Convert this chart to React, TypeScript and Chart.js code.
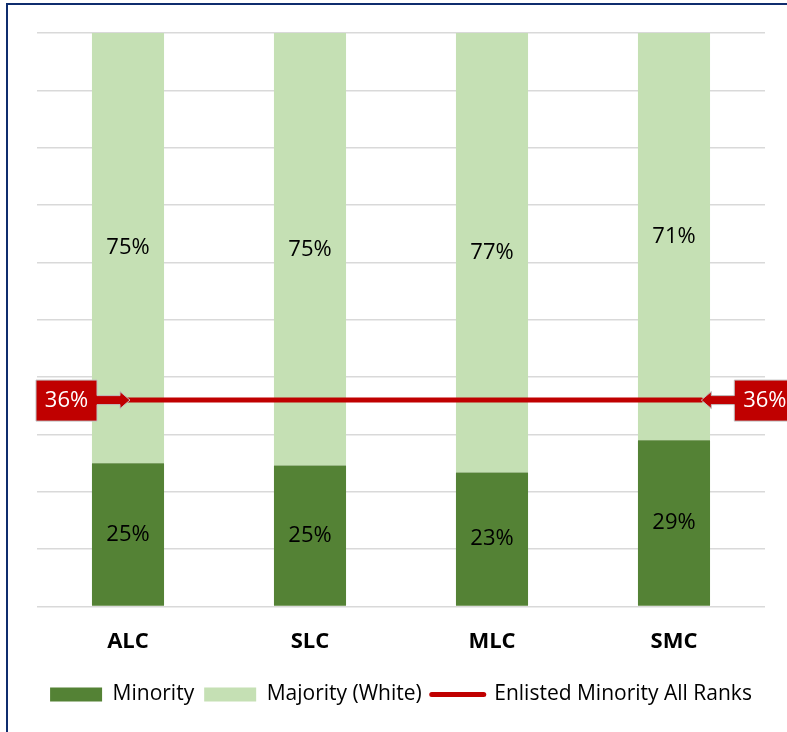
import React, { useEffect, useRef } from "react";
import { Chart, registerables } from "chart.js";

Chart.register(...registerables);

const categories = ["ALC", "SLC", "MLC", "SMC"];
const minority = [25, 24.6, 23.4, 29];
const majority = [75, 75.4, 76.6, 71];
const enlistedMinority = 36;
const lineX = [0.5, 3.65];
const yTicks = [0, 10, 20, 30, 40, 50, 60, 70, 80, 90, 100];

const FONT = "'Open Sans', sans-serif";
const RED = "#C00000";

const labelPlugin = {
  id: "barLabels",
  afterDatasetsDraw(chart: any) {
    const ctx = chart.ctx;
    ctx.save();
    ctx.font = `22px ${FONT}`;
    ctx.fillStyle = "#000000";
    ctx.textAlign = "center";
    ctx.textBaseline = "middle";
    [0, 1].forEach((di) => {
      const meta = chart.getDatasetMeta(di);
      const ds = chart.data.datasets[di];
      meta.data.forEach((el: any, i: number) => {
        const { x, y, base } = el.getProps(["x", "y", "base"], true);
        ctx.fillText(Math.round(ds.data[i]) + "%", x, (y + base) / 2);
      });
    });
    ctx.restore();
  },
};

const calloutPlugin = {
  id: "callouts",
  afterDatasetsDraw(chart: any) {
    const meta = chart.getDatasetMeta(2);
    const pts = meta.data;
    if (!pts || pts.length < 2) return;
    const ctx = chart.ctx;
    const drawCallout = (tipX: number, tipY: number, dir: number) => {
      const gap = 33;
      const boxW = 61;
      const headL = 10;
      const shaftH = 4.5;
      const headH = 8.5;
      const top = tipY - 20;
      const bot = tipY + 21;
      const near = tipX - dir * gap;
      const far = near - dir * boxW;
      const headBase = tipX - dir * headL;
      ctx.save();
      ctx.beginPath();
      ctx.moveTo(far, top);
      ctx.lineTo(near, top);
      ctx.lineTo(near, tipY - shaftH);
      ctx.lineTo(headBase, tipY - shaftH);
      ctx.lineTo(headBase, tipY - headH);
      ctx.lineTo(tipX, tipY);
      ctx.lineTo(headBase, tipY + headH);
      ctx.lineTo(headBase, tipY + shaftH);
      ctx.lineTo(near, tipY + shaftH);
      ctx.lineTo(near, bot);
      ctx.lineTo(far, bot);
      ctx.closePath();
      ctx.fillStyle = RED;
      ctx.fill();
      ctx.strokeStyle = "#BFBFBF";
      ctx.lineWidth = 1;
      ctx.stroke();
      ctx.fillStyle = "#FFFFFF";
      ctx.font = `22px ${FONT}`;
      ctx.textAlign = "center";
      ctx.textBaseline = "middle";
      ctx.fillText(enlistedMinority + "%", (near + far) / 2, tipY + 1);
      ctx.restore();
    };
    const a = pts[0];
    const b = pts[pts.length - 1];
    drawCallout(a.x + 2, a.y, 1);
    drawCallout(b.x, b.y, -1);
  },
};

export default function App() {
  const ref = useRef<HTMLCanvasElement | null>(null);
  useEffect(() => {
    if (!ref.current) return;
    const chart = new Chart(ref.current, {
      type: "bar",
      data: {
        labels: categories,
        datasets: [
          {
            label: "Minority",
            data: minority,
            backgroundColor: "#548235",
            borderWidth: 0,
            xAxisID: "x",
            stack: "s",
            grouped: false,
            categoryPercentage: 1,
            barPercentage: 0.396,
            order: 1,
          } as any,
          {
            label: "Majority (White)",
            data: majority,
            backgroundColor: "#C5E0B4",
            borderWidth: 0,
            xAxisID: "x",
            stack: "s",
            grouped: false,
            categoryPercentage: 1,
            barPercentage: 0.396,
            order: 1,
          } as any,
          {
            type: "line",
            label: "Enlisted Minority All Ranks",
            data: lineX.map((x) => ({ x, y: enlistedMinority })),
            xAxisID: "x2",
            borderColor: RED,
            backgroundColor: RED,
            borderWidth: 5,
            borderCapStyle: "round",
            pointRadius: 0,
            pointStyle: "line",
            order: 0,
          } as any,
        ],
      },
      options: {
        animation: false,
        responsive: false,
        layout: { padding: { left: 37, right: 22, top: 33, bottom: 17 } },
        scales: {
          x: {
            type: "category",
            stacked: true,
            grid: { display: false },
            border: { display: false },
            ticks: {
              color: "#000000",
              font: { family: FONT, size: 22, weight: "bold" },
              padding: 14,
            },
            afterFit: (axis: any) => {
              axis.height += 5;
            },
          },
          x2: {
            type: "linear",
            axis: "x",
            display: false,
            offset: false,
            min: 0,
            max: 4,
            bounds: "ticks",
            grace: 0,
          },
          y: {
            stacked: true,
            min: 0,
            max: 100,
            afterBuildTicks: (axis: any) => {
              axis.ticks = yTicks.map((v) => ({ value: v }));
            },
            ticks: { display: false },
            grid: { color: "#D9D9D9", lineWidth: 1.5, drawTicks: false },
            border: { display: false },
          },
        } as any,
        plugins: {
          tooltip: { enabled: false },
          legend: {
            position: "bottom",
            labels: {
              color: "#000000",
              font: { family: FONT, size: 21 },
              usePointStyle: true,
              pointStyleWidth: 52,
              boxHeight: 14,
              padding: 10,
              sort: (a: any, b: any) => a.datasetIndex - b.datasetIndex,
              generateLabels: (c: any) => {
                const items = Chart.defaults.plugins.legend.labels.generateLabels(c);
                return items.map((it: any) =>
                  it.datasetIndex === 2
                    ? { ...it, pointStyle: "line", lineWidth: 5, lineCap: "round", strokeStyle: RED }
                    : { ...it, pointStyle: "rect", lineWidth: 0 }
                );
              },
            },
          },
        },
      },
      plugins: [labelPlugin, calloutPlugin],
    });
    return () => chart.destroy();
  }, []);

  return (
    <div style={{ position: "fixed", left: 0, top: 0, width: 787, height: 732, background: "#fff", overflow: "hidden" }}>
      <div
        style={{
          position: "absolute",
          left: 6,
          top: 3,
          width: 900,
          height: 900,
          borderLeft: "2px solid #0F2D6E",
          borderTop: "2px solid #0F2D6E",
        }}
      />
      <canvas ref={ref} width={787} height={732} style={{ position: "absolute", left: 0, top: 0 }} />
    </div>
  );
}
